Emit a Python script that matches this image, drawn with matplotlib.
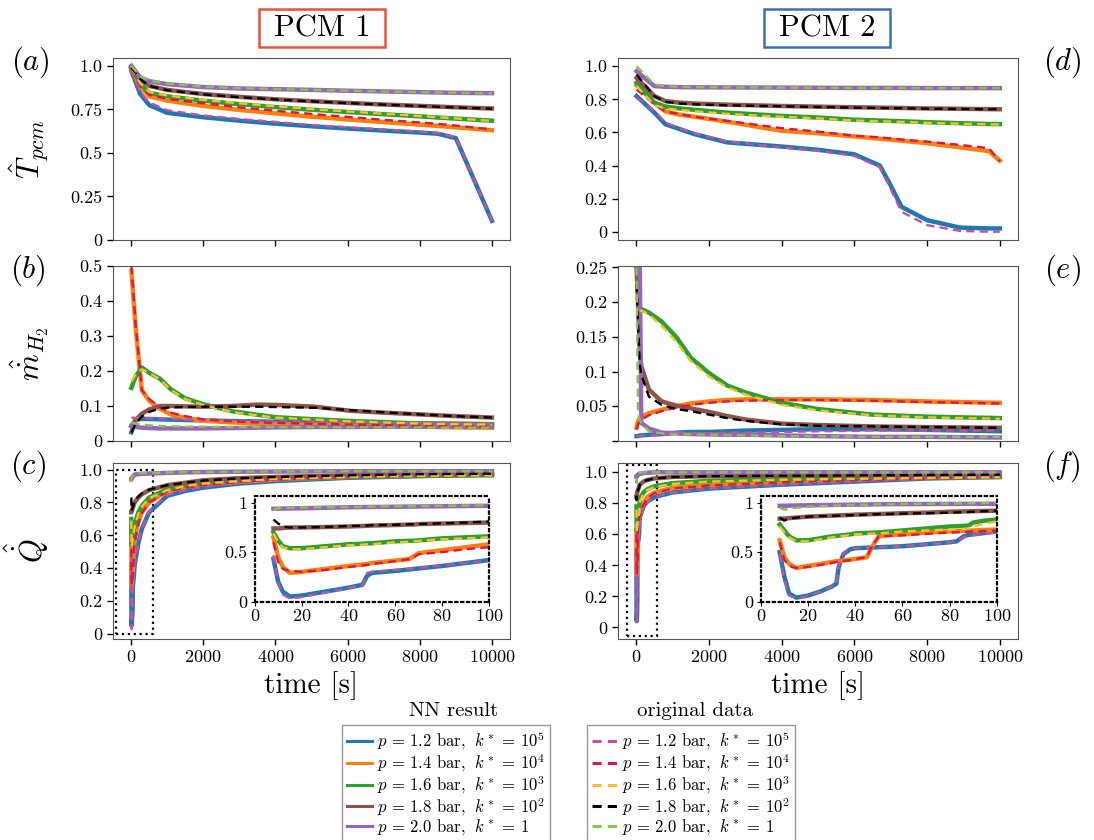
import numpy as np
import matplotlib.pyplot as plt
from matplotlib.lines import Line2D
from matplotlib.patches import Rectangle

plt.rcParams['font.family'] = 'serif'
plt.rcParams['font.serif'] = ['cmr10']
plt.rcParams['mathtext.fontset'] = 'cm'
plt.rcParams['axes.unicode_minus'] = False
plt.rcParams['axes.formatter.use_mathtext'] = True

nan = np.nan

# legend labels
labels = [r'$p\,=\,1.2$ bar, $\;k^*\,=\,10^5$',
          r'$p\,=\,1.4$ bar, $\;k^*\,=\,10^4$',
          r'$p\,=\,1.6$ bar, $\;k^*\,=\,10^3$',
          r'$p\,=\,1.8$ bar, $\;k^*\,=\,10^2$',
          r'$p\,=\,2.0$ bar, $\;k^*\,=\,1$']
nn_colors = ['#1f77b4', '#ff7f0e', '#2ca02c', '#8c564b', '#9467bd']
og_colors = ['#c4529f', '#d6194b', '#fbc02d', 'black', '#8bc34a']

# ---- (a) PCM 1, T_pcm
t_a = [10, 250, 500, 1000, 2000, 3000, 4000, 5000, 6000, 7000, 8000, 8500, 9000, 10000]
a_nn = [
    [0.97, 0.84, 0.775, 0.73, 0.705, 0.685, 0.668, 0.653, 0.64, 0.628, 0.617, 0.61, 0.585, 0.11],
    [0.98, 0.88, 0.825, 0.80, 0.77, 0.747, 0.727, 0.708, 0.692, 0.677, 0.662, 0.655, 0.647, 0.63],
    [0.99, 0.90, 0.845, 0.825, 0.80, 0.78, 0.763, 0.748, 0.735, 0.722, 0.71, 0.703, 0.697, 0.685],
    [0.99, 0.93, 0.885, 0.862, 0.838, 0.822, 0.808, 0.797, 0.787, 0.778, 0.77, 0.766, 0.762, 0.755],
    [1.0, 0.935, 0.912, 0.895, 0.878, 0.87, 0.866, 0.862, 0.857, 0.853, 0.849, 0.847, 0.845, 0.843]]
a_og = [
    [0.975, 0.85, 0.79, 0.745, 0.715, 0.695, 0.678, 0.66, 0.647, 0.635, 0.622, 0.615, 0.59, 0.11],
    [0.985, 0.885, 0.835, 0.81, 0.785, 0.762, 0.742, 0.724, 0.707, 0.69, 0.675, 0.667, 0.657, 0.635],
    [0.99, 0.90, 0.85, 0.83, 0.805, 0.785, 0.768, 0.752, 0.738, 0.725, 0.712, 0.705, 0.698, 0.684],
    [0.99, 0.925, 0.885, 0.86, 0.836, 0.82, 0.807, 0.796, 0.786, 0.777, 0.769, 0.765, 0.761, 0.754],
    [1.0, 0.94, 0.915, 0.898, 0.88, 0.872, 0.867, 0.862, 0.857, 0.853, 0.849, 0.847, 0.845, 0.842]]

# ---- (d) PCM 2, T_pcm
t_d = [10, 500, 800, 1200, 1600, 2500, 4000, 5000, 6000, 6700, 6950, 7300, 8000, 8900, 9700, 10000]
d_nn = [
    [0.82, 0.72, 0.65, 0.62, 0.59, 0.54, 0.515, 0.495, 0.468, 0.40, 0.30, 0.15, 0.07, 0.025, 0.02, 0.02],
    [0.885, 0.78, 0.727, 0.707, 0.695, 0.665, 0.61, 0.595, 0.576, 0.562, 0.557, 0.55, 0.535, 0.51, 0.487, 0.43],
    [0.90, 0.78, 0.757, 0.745, 0.737, 0.72, 0.70, 0.69, 0.677, 0.672, 0.67, 0.668, 0.662, 0.656, 0.651, 0.65],
    [0.93, 0.82, 0.79, 0.78, 0.775, 0.768, 0.76, 0.756, 0.752, 0.75, 0.749, 0.748, 0.745, 0.743, 0.741, 0.74],
    [0.97, 0.88, 0.876, 0.874, 0.873, 0.872, 0.871, 0.87, 0.869, 0.869, 0.869, 0.869, 0.868, 0.868, 0.868, 0.868]]
d_og = [
    [0.81, 0.73, 0.66, 0.625, 0.595, 0.545, 0.51, 0.49, 0.458, 0.39, 0.28, 0.12, 0.04, 0.005, 0.0, 0.0],
    [0.86, 0.77, 0.727, 0.71, 0.695, 0.67, 0.626, 0.605, 0.58, 0.57, 0.565, 0.557, 0.545, 0.525, 0.505, 0.425],
    [0.88, 0.765, 0.745, 0.735, 0.728, 0.712, 0.695, 0.685, 0.672, 0.668, 0.666, 0.664, 0.658, 0.653, 0.649, 0.648],
    [0.95, 0.82, 0.785, 0.775, 0.77, 0.764, 0.758, 0.754, 0.75, 0.748, 0.747, 0.746, 0.744, 0.742, 0.74, 0.74],
    [1.0, 0.89, 0.88, 0.876, 0.874, 0.872, 0.871, 0.87, 0.869, 0.869, 0.869, 0.869, 0.868, 0.868, 0.868, 0.868]]

# ---- (b) PCM 1, m_H2
t_b = [10, 130, 300, 500, 800, 1100, 1500, 2000, 2800, 3500, 4000, 5100, 6100, 7000, 8000, 9000, 10000]
b_nn = [
    [0.025, 0.062, 0.063, 0.063, 0.062, 0.061, 0.06, 0.059, 0.057, 0.056, 0.055, 0.053, 0.052, 0.051, 0.05, 0.049, 0.048],
    [0.486, 0.32, 0.145, 0.115, 0.092, 0.076, 0.066, 0.058, 0.053, 0.05, 0.049, 0.047, 0.045, 0.043, 0.041, 0.039, 0.038],
    [0.152, 0.185, 0.21, 0.195, 0.178, 0.148, 0.122, 0.105, 0.085, 0.075, 0.068, 0.062, 0.057, 0.054, 0.05, 0.049, 0.048],
    [0.043, 0.06, 0.078, 0.09, 0.1, 0.1, 0.099, 0.098, 0.1, 0.104, 0.103, 0.098, 0.086, 0.081, 0.076, 0.071, 0.067],
    [0.043, 0.04, 0.038, 0.037, 0.036, 0.036, 0.036, 0.036, 0.037, 0.038, 0.039, 0.04, 0.04, 0.041, 0.041, 0.041, 0.041]]
b_og = [
    [0.067, 0.066, 0.065, 0.064, 0.064, 0.063, 0.061, 0.06, 0.058, 0.057, 0.056, 0.055, 0.054, 0.053, 0.052, 0.051, 0.05],
    [0.5, 0.33, 0.145, 0.12, 0.097, 0.081, 0.071, 0.062, 0.056, 0.053, 0.052, 0.049, 0.047, 0.045, 0.043, 0.042, 0.041],
    [0.17, 0.19, 0.205, 0.195, 0.176, 0.146, 0.12, 0.103, 0.083, 0.073, 0.067, 0.061, 0.056, 0.053, 0.05, 0.048, 0.047],
    [0.024, 0.05, 0.07, 0.083, 0.093, 0.096, 0.097, 0.098, 0.098, 0.098, 0.097, 0.095, 0.088, 0.082, 0.076, 0.071, 0.067],
    [0.052, 0.05, 0.047, 0.045, 0.043, 0.042, 0.041, 0.041, 0.04, 0.04, 0.04, 0.04, 0.039, 0.039, 0.039, 0.038, 0.038]]

# ---- (e) PCM 2, m_H2
t_e = [10, 50, 100, 140, 350, 700, 1100, 1500, 2000, 2500, 3000, 4000, 5000, 6500, 8000, 10000]
e_nn = [
    [0.007, 0.007, 0.008, 0.008, 0.009, 0.01, 0.012, 0.013, 0.013, 0.014, 0.015, 0.016, 0.017, 0.017, 0.016, 0.014],
    [0.019, 0.028, 0.033, 0.035, 0.04, 0.045, 0.05, 0.054, 0.057, 0.059, 0.06, 0.06, 0.06, 0.059, 0.057, 0.055],
    [nan, nan, 0.188, 0.19, 0.185, 0.172, 0.15, 0.12, 0.098, 0.08, 0.07, 0.055, 0.046, 0.038, 0.035, 0.033],
    [0.25, 0.2, 0.13, 0.108, 0.074, 0.057, 0.051, 0.047, 0.042, 0.036, 0.031, 0.025, 0.023, 0.021, 0.02, 0.019],
    [nan, nan, 0.248, 0.026, 0.018, 0.012, 0.011, 0.01, 0.0095, 0.009, 0.009, 0.008, 0.007, 0.006, 0.006, 0.005]]
e_og = [
    [0.007, 0.007, 0.007, 0.008, 0.008, 0.009, 0.01, 0.01, 0.011, 0.012, 0.012, 0.013, 0.014, 0.015, 0.015, 0.015],
    [0.017, 0.024, 0.029, 0.031, 0.037, 0.043, 0.048, 0.052, 0.055, 0.057, 0.058, 0.059, 0.059, 0.058, 0.056, 0.054],
    [nan, nan, 0.186, 0.188, 0.182, 0.166, 0.143, 0.115, 0.093, 0.077, 0.067, 0.052, 0.044, 0.037, 0.034, 0.032],
    [0.226, 0.17, 0.11, 0.095, 0.064, 0.052, 0.046, 0.043, 0.038, 0.033, 0.029, 0.024, 0.022, 0.021, 0.02, 0.019],
    [0.25, 0.04, 0.03, 0.026, 0.014, 0.011, 0.01, 0.0095, 0.009, 0.0085, 0.008, 0.007, 0.007, 0.006, 0.006, 0.006]]

# ---- (c) PCM 1, Q
t_c = [8, 10, 12, 15, 20, 30, 40, 46, 48, 50, 60, 66, 68, 70, 80, 90, 100,
       200, 300, 500, 1000, 1500, 2000, 3000, 4000, 6000, 8000, 10000]
c_nn = [
    [0.43, 0.2, 0.1, 0.05, 0.06, 0.1, 0.14, 0.17, 0.26, 0.29, 0.31, 0.325, 0.33, 0.335, 0.36, 0.39, 0.42,
     0.55, 0.64, 0.74, 0.84, 0.87, 0.89, 0.915, 0.93, 0.95, 0.96, 0.97],
    [0.65, 0.45, 0.35, 0.29, 0.3, 0.33, 0.36, 0.375, 0.38, 0.39, 0.415, 0.43, 0.46, 0.49, 0.52, 0.55, 0.58,
     0.68, 0.74, 0.8, 0.87, 0.895, 0.91, 0.925, 0.94, 0.955, 0.965, 0.97],
    [0.7, 0.62, 0.56, 0.54, 0.54, 0.56, 0.58, 0.585, 0.59, 0.59, 0.61, 0.615, 0.615, 0.62, 0.64, 0.65, 0.66,
     0.74, 0.78, 0.83, 0.88, 0.905, 0.92, 0.935, 0.945, 0.955, 0.962, 0.965],
    [0.74, 0.74, 0.745, 0.75, 0.75, 0.755, 0.76, 0.765, 0.767, 0.77, 0.775, 0.78, 0.78, 0.785, 0.79, 0.795, 0.8,
     0.83, 0.85, 0.875, 0.905, 0.92, 0.935, 0.948, 0.955, 0.965, 0.972, 0.975],
    [0.94, 0.94, 0.942, 0.943, 0.945, 0.95, 0.955, 0.957, 0.958, 0.958, 0.96, 0.962, 0.962, 0.963, 0.965, 0.968, 0.97,
     0.972, 0.974, 0.976, 0.98, 0.983, 0.985, 0.987, 0.988, 0.99, 0.99, 0.99]]
c_og = [
    [0.47, 0.18, 0.07, 0.03, 0.045, 0.09, 0.135, 0.165, 0.29, 0.3, 0.32, 0.33, 0.335, 0.34, 0.365, 0.39, 0.415,
     0.55, 0.64, 0.745, 0.845, 0.875, 0.895, 0.92, 0.935, 0.952, 0.962, 0.97],
    [0.6, 0.4, 0.33, 0.31, 0.3, 0.32, 0.35, 0.365, 0.37, 0.38, 0.41, 0.43, 0.45, 0.48, 0.5, 0.53, 0.55,
     0.67, 0.735, 0.8, 0.865, 0.89, 0.905, 0.925, 0.94, 0.955, 0.963, 0.968],
    [0.69, 0.6, 0.55, 0.53, 0.53, 0.55, 0.57, 0.575, 0.58, 0.58, 0.6, 0.605, 0.61, 0.615, 0.63, 0.64, 0.65,
     0.73, 0.775, 0.825, 0.875, 0.9, 0.915, 0.93, 0.943, 0.955, 0.962, 0.965],
    [0.83, 0.79, 0.76, 0.75, 0.75, 0.755, 0.765, 0.768, 0.77, 0.772, 0.778, 0.782, 0.783, 0.785, 0.792, 0.8, 0.81,
     0.835, 0.855, 0.878, 0.905, 0.92, 0.933, 0.947, 0.955, 0.965, 0.972, 0.975],
    [0.925, 0.945, 0.948, 0.95, 0.952, 0.955, 0.958, 0.96, 0.96, 0.962, 0.964, 0.966, 0.966, 0.967, 0.97, 0.972, 0.975,
     0.977, 0.978, 0.98, 0.982, 0.984, 0.985, 0.987, 0.988, 0.99, 0.99, 0.99]]

# ---- (f) PCM 2, Q
t_f = [8, 10, 12, 15, 20, 25, 30, 32, 33, 35, 38, 40, 45, 47, 50, 55, 60, 70, 80, 83, 86, 88, 90, 95, 100,
       200, 300, 500, 1000, 2000, 4000, 6000, 8000, 10000]
f_nn = [
    [0.5, 0.25, 0.08, 0.04, 0.06, 0.1, 0.15, 0.18, 0.35, 0.48, 0.53, 0.54, 0.545, 0.548, 0.55, 0.555, 0.56, 0.58,
     0.6, 0.61, 0.66, 0.675, 0.68, 0.695, 0.71, 0.78, 0.81, 0.84, 0.87, 0.895, 0.92, 0.94, 0.96, 0.97],
    [0.62, 0.45, 0.38, 0.34, 0.36, 0.38, 0.40, 0.41, 0.41, 0.415, 0.425, 0.43, 0.45, 0.55, 0.66, 0.675, 0.68, 0.70,
     0.71, 0.712, 0.715, 0.717, 0.72, 0.725, 0.73, 0.8, 0.84, 0.87, 0.9, 0.92, 0.94, 0.955, 0.965, 0.975],
    [0.78, 0.72, 0.66, 0.62, 0.62, 0.64, 0.66, 0.665, 0.668, 0.672, 0.68, 0.69, 0.695, 0.697, 0.70, 0.71, 0.72, 0.74,
     0.76, 0.763, 0.766, 0.77, 0.80, 0.82, 0.83, 0.87, 0.89, 0.91, 0.93, 0.945, 0.955, 0.96, 0.965, 0.97],
    [0.84, 0.84, 0.845, 0.85, 0.86, 0.865, 0.87, 0.872, 0.873, 0.875, 0.877, 0.88, 0.883, 0.885, 0.887, 0.89, 0.895,
     0.9, 0.91, 0.912, 0.913, 0.914, 0.915, 0.918, 0.92, 0.94, 0.95, 0.96, 0.97, 0.975, 0.978, 0.98, 0.983, 0.985],
    [0.97, 0.97, 0.972, 0.973, 0.975, 0.977, 0.978, 0.979, 0.979, 0.98, 0.981, 0.982, 0.983, 0.984, 0.985, 0.986,
     0.987, 0.988, 0.989, 0.989, 0.99, 0.99, 0.99, 0.99, 0.99, 0.995, 0.997, 1.0, 1.0, 1.0, 1.0, 1.0, 1.0, 1.0]]
f_og = [
    [0.48, 0.22, 0.06, 0.035, 0.055, 0.1, 0.15, 0.18, 0.36, 0.49, 0.53, 0.54, 0.545, 0.548, 0.55, 0.555, 0.56, 0.58,
     0.6, 0.61, 0.65, 0.665, 0.675, 0.69, 0.70, 0.78, 0.81, 0.84, 0.87, 0.895, 0.92, 0.94, 0.96, 0.97],
    [0.6, 0.42, 0.36, 0.34, 0.35, 0.37, 0.39, 0.40, 0.405, 0.41, 0.42, 0.43, 0.45, 0.56, 0.66, 0.665, 0.67, 0.685,
     0.70, 0.702, 0.705, 0.707, 0.71, 0.715, 0.72, 0.79, 0.83, 0.865, 0.895, 0.915, 0.935, 0.95, 0.96, 0.97],
    [0.76, 0.70, 0.65, 0.61, 0.61, 0.63, 0.65, 0.655, 0.66, 0.665, 0.672, 0.68, 0.685, 0.687, 0.69, 0.70, 0.71, 0.72,
     0.73, 0.733, 0.736, 0.74, 0.76, 0.79, 0.81, 0.86, 0.885, 0.905, 0.925, 0.94, 0.952, 0.958, 0.963, 0.968],
    [0.85, 0.82, 0.84, 0.85, 0.86, 0.865, 0.868, 0.87, 0.87, 0.872, 0.874, 0.875, 0.88, 0.882, 0.885, 0.888, 0.89,
     0.895, 0.9, 0.902, 0.905, 0.907, 0.91, 0.915, 0.92, 0.94, 0.95, 0.96, 0.97, 0.975, 0.978, 0.98, 0.983, 0.985],
    [0.95, 0.93, 0.94, 0.95, 0.96, 0.965, 0.97, 0.972, 0.973, 0.975, 0.977, 0.978, 0.98, 0.982, 0.985, 0.987, 0.989,
     0.991, 0.993, 0.994, 0.995, 0.996, 0.996, 0.998, 1.0, 1.0, 1.0, 1.0, 1.0, 1.0, 1.0, 1.0, 1.0, 1.0]]

W, H = 1094, 840
fig = plt.figure(figsize=(W / 100, H / 100), dpi=100)


def px_axes(x0, x1, y0, y1):
    return fig.add_axes([x0 / W, 1 - y1 / H, (x1 - x0) / W, (y1 - y0) / H])


def draw(ax, t, nn, og):
    for y, c in zip(nn, nn_colors):
        ax.plot(t, y, color=c, lw=3.2)
    for y, c in zip(og, og_colors):
        ax.plot(t, y, color=c, lw=1.7, ls='--', dashes=(3.5, 2.2))


def style(ax, yticks, ylabels, ylim, xlabels=False):
    ax.set_xlim(-500, 10500)
    ax.set_xticks(range(0, 10001, 2000))
    ax.set_ylim(*ylim)
    ax.set_yticks(yticks)
    ax.set_yticklabels(ylabels)
    ax.tick_params(labelsize=13, length=4, width=1)
    if not xlabels:
        ax.set_xticklabels([])
    else:
        ax.set_xlabel('time [s]', fontsize=21)
    for s in ax.spines.values():
        s.set_color('#555555')


rows = [(58, 240), (266, 441), (463, 639)]
cols = [(113, 510), (618, 1018)]

ax_a = px_axes(*cols[0], *rows[0])
ax_b = px_axes(*cols[0], *rows[1])
ax_c = px_axes(*cols[0], *rows[2])
ax_d = px_axes(*cols[1], *rows[0])
ax_e = px_axes(*cols[1], *rows[1])
ax_f = px_axes(*cols[1], *rows[2])

draw(ax_a, t_a, a_nn, a_og)
draw(ax_b, t_b, b_nn, b_og)
draw(ax_c, t_c, c_nn, c_og)
draw(ax_d, t_d, d_nn, d_og)
draw(ax_e, t_e, e_nn, e_og)
draw(ax_f, t_f, f_nn, f_og)

style(ax_a, [0, 0.25, 0.5, 0.75, 1.0], ['0', '0.25', '0.5', '0.75', '1.0'], (0, 1.045))
style(ax_b, [0, 0.1, 0.2, 0.3, 0.4, 0.5], ['0', '0.1', '0.2', '0.3', '0.4', '0.5'], (0, 0.5))
style(ax_c, [0, 0.2, 0.4, 0.6, 0.8, 1.0], ['0', '0.2', '0.4', '0.6', '0.8', '1.0'], (-0.03, 1.04), True)
style(ax_d, [0, 0.2, 0.4, 0.6, 0.8, 1.0], ['0', '0.2', '0.4', '0.6', '0.8', '1.0'], (-0.05, 1.05))
style(ax_e, [0, 0.05, 0.1, 0.15, 0.2, 0.25], ['', '0.05', '0.1', '0.15', '0.2', '0.25'], (0, 0.252))
style(ax_f, [0, 0.2, 0.4, 0.6, 0.8, 1.0], ['0', '0.2', '0.4', '0.6', '0.8', '1.0'], (-0.075, 1.06), True)

ax_a.set_ylabel(r'$\hat{T}_{pcm}$', fontsize=22)
ax_b.set_ylabel(r'$\hat{\dot{m}}_{H_2}$', fontsize=22)
ax_c.set_ylabel(r'$\hat{\dot{Q}}$', fontsize=22)
for ax in (ax_a, ax_b, ax_c):
    ax.yaxis.set_label_coords(-0.155, 0.5)

# zoom boxes and insets
ax_c.add_patch(Rectangle((-410, 0), 1020, 1.0, fill=False, ls=':', lw=1.6, ec='black'))
ax_f.add_patch(Rectangle((-250, -0.058), 830, 1.103, fill=False, ls=':', lw=1.6, ec='black'))

for ax, t, nn, og in ((ax_c, t_c, c_nn, c_og), (ax_f, t_f, f_nn, f_og)):
    ins = ax.inset_axes([0.357, 0.213, 0.59, 0.60])
    draw(ins, t, nn, og)
    ins.set_xlim(0, 100)
    ins.set_ylim(0, 1.07)
    ins.set_xticks(range(0, 101, 20))
    ins.set_yticks([0, 0.5, 1])
    ins.set_yticklabels(['0', '0.5', '1'])
    ins.tick_params(labelsize=13, length=3, pad=2)
    for s in ins.spines.values():
        s.set_linestyle(':')
        s.set_linewidth(1.6)
        s.set_color('black')

# panel letters
for txt, x, y in (('(a)', 30, 62), ('(b)', 28, 270), ('(c)', 28, 466),
                  ('(d)', 1062, 62), ('(e)', 1062, 270), ('(f)', 1062, 466)):
    fig.text(x / W, 1 - y / H, '$' + txt + '$', fontsize=22, ha='center', va='center')

# column titles with framed boxes
for name, cx, ec in (('PCM 1', 322, '#e8533a'), ('PCM 2', 827, '#3d6fb0')):
    fig.patches.append(Rectangle(((cx - 63) / W, 1 - 47 / H), 126 / W, 38 / H,
                                 transform=fig.transFigure, fill=False, ec=ec, lw=1.8))
    fig.text(cx / W, 1 - 29 / H, name, fontsize=22, ha='center', va='center')

# legends
nn_handles = [Line2D([], [], color=c, lw=2.2, label=l) for c, l in zip(nn_colors, labels)]
og_handles = [Line2D([], [], color=c, lw=2.2, ls='--', dashes=(3, 2), label=l)
              for c, l in zip(og_colors, labels)]
common = dict(loc='upper left', fontsize=12, handlelength=1.5, handletextpad=0.3,
              labelspacing=0.0, borderpad=0.3, borderaxespad=0, fancybox=False,
              edgecolor='#999999', framealpha=1)
fig.legend(handles=nn_handles, bbox_to_anchor=(342 / W, 1 - 725 / H), **common)
fig.legend(handles=og_handles, bbox_to_anchor=(587 / W, 1 - 725 / H), **common)
fig.text(454 / W, 1 - 711 / H, 'NN result', fontsize=15, ha='center', va='center')
fig.text(695 / W, 1 - 711 / H, 'original data', fontsize=15, ha='center', va='center')

fig.savefig('out.png', dpi=100)
